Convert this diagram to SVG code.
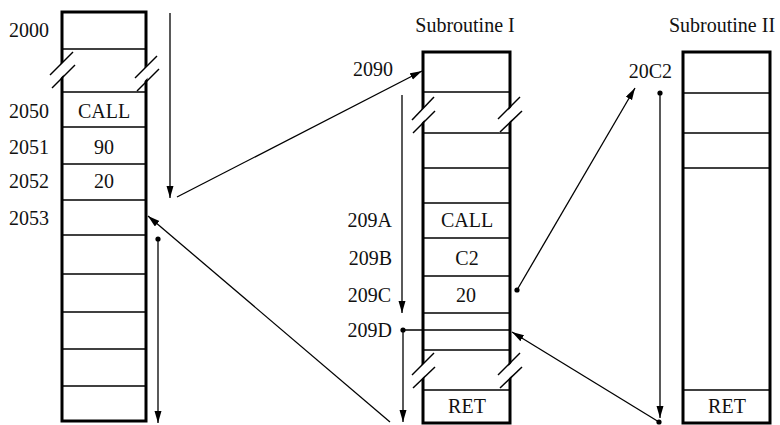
<svg xmlns="http://www.w3.org/2000/svg" width="780" height="425" viewBox="0 0 780 425">
<defs>
<marker id="ah" markerUnits="userSpaceOnUse" markerWidth="13" markerHeight="8" refX="12" refY="3.5" orient="auto">
<path d="M0,0 L12,3.5 L0,7 z" fill="#000"/>
</marker>
<style>
text{font-family:"Liberation Serif","Times New Roman",serif;font-size:20px;fill:#111}
.mid{text-anchor:middle}
.end{text-anchor:end}
.box{fill:#fff;stroke:#000;stroke-width:3}
.row{stroke:#000;stroke-width:1.5}
.sl{stroke:#000;stroke-width:1.5}
.mask{fill:#fff;stroke:none}
.con{stroke:#000;stroke-width:1.3;fill:none}
.arr{stroke:#000;stroke-width:1.3;fill:none;marker-end:url(#ah)}
.dot{fill:#000}
</style>
</defs>
<rect width="780" height="425" fill="#fff"/>

<g id="main-memory">
<rect class="box" x="62" y="12" width="84" height="409"/>
<g>
<line class="row" x1="62" y1="49" x2="146" y2="49"/>
<line class="row" x1="62" y1="92" x2="146" y2="92"/>
<line class="row" x1="62" y1="127" x2="146" y2="127"/>
<line class="row" x1="62" y1="164" x2="146" y2="164"/>
<line class="row" x1="62" y1="200" x2="146" y2="200"/>
<line class="row" x1="62" y1="235" x2="146" y2="235"/>
<line class="row" x1="62" y1="274" x2="146" y2="274"/>
<line class="row" x1="62" y1="312" x2="146" y2="312"/>
<line class="row" x1="62" y1="349" x2="146" y2="349"/>
<line class="row" x1="62" y1="386" x2="146" y2="386"/>
</g>
<polygon class="mask" points="51,74.5 73,52.5 73,65.5 51,87.5"/>
<line class="sl" x1="50" y1="75" x2="73" y2="52"/>
<line class="sl" x1="52" y1="88" x2="75" y2="65"/>
<polygon class="mask" points="135,77.5 157,55.5 157,68.5 135,90.5"/>
<line class="sl" x1="135" y1="78" x2="157" y2="56"/>
<line class="sl" x1="137" y1="91" x2="159" y2="69"/>
<text x="9" y="37">2000</text>
<text x="9" y="118">2050</text>
<text x="9" y="154">2051</text>
<text x="9" y="188">2052</text>
<text x="9" y="225">2053</text>
<text class="mid" x="104" y="118">CALL</text>
<text class="mid" x="104" y="154">90</text>
<text class="mid" x="104" y="188">20</text>
</g>

<g id="subroutine-1">
<text class="mid" x="465" y="32">Subroutine I</text>
<rect class="box" x="423" y="52" width="87" height="371"/>
<line class="row" x1="423" y1="92" x2="510" y2="92"/>
<line class="row" x1="423" y1="133" x2="510" y2="133"/>
<line class="row" x1="423" y1="168" x2="510" y2="168"/>
<line class="row" x1="423" y1="203" x2="510" y2="203"/>
<line class="row" x1="423" y1="238" x2="510" y2="238"/>
<line class="row" x1="423" y1="276" x2="510" y2="276"/>
<line class="row" x1="423" y1="313" x2="510" y2="313"/>
<line class="row" x1="423" y1="350" x2="510" y2="350"/>
<line class="row" x1="423" y1="390" x2="510" y2="390"/>
<polygon class="mask" points="412,119.5 434,97.5 434,110.5 412,132.5"/>
<line class="sl" x1="412" y1="120" x2="434" y2="97"/>
<line class="sl" x1="413" y1="133" x2="435" y2="111"/>
<polygon class="mask" points="499,119.5 521,97.5 521,110.5 499,132.5"/>
<line class="sl" x1="498" y1="119" x2="520" y2="97"/>
<line class="sl" x1="500" y1="132" x2="522" y2="111"/>
<polygon class="mask" points="412,375.5 434,353.5 434,366.5 412,388.5"/>
<line class="sl" x1="412" y1="375" x2="434" y2="353"/>
<line class="sl" x1="413" y1="388" x2="435" y2="367"/>
<polygon class="mask" points="499,375.5 521,353.5 521,366.5 499,388.5"/>
<line class="sl" x1="498" y1="375" x2="520" y2="353"/>
<line class="sl" x1="500" y1="388" x2="522" y2="367"/>
<text class="end" x="393" y="76">2090</text>
<text class="end" x="392" y="227">209A</text>
<text class="end" x="392" y="265">209B</text>
<text class="end" x="391" y="302">209C</text>
<text class="end" x="392" y="337">209D</text>
<text class="mid" x="467" y="227">CALL</text>
<text class="mid" x="467" y="265">C2</text>
<text class="mid" x="466" y="302">20</text>
<text class="mid" x="467" y="413">RET</text>
</g>

<g id="subroutine-2">
<text class="mid" x="722" y="32">Subroutine II</text>
<rect class="box" x="683" y="52" width="87" height="371"/>
<line class="row" x1="683" y1="93" x2="770" y2="93"/>
<line class="row" x1="683" y1="133" x2="770" y2="133"/>
<line class="row" x1="683" y1="168" x2="770" y2="168"/>
<line class="row" x1="683" y1="390" x2="770" y2="390"/>
<text class="end" x="672" y="78">20C2</text>
<text class="mid" x="727" y="413">RET</text>
</g>

<g id="connectors">
<line class="arr" x1="170" y1="13" x2="170" y2="198"/>
<line class="arr" x1="177" y1="197" x2="422" y2="71"/>
<line class="arr" x1="402" y1="95" x2="402" y2="313"/>
<circle class="dot" cx="517" cy="290" r="2.6"/>
<line class="arr" x1="517" y1="290" x2="635" y2="88"/>
<circle class="dot" cx="660" cy="93" r="2.6"/>
<line class="arr" x1="660" y1="93" x2="660" y2="418"/>
<circle class="dot" cx="659" cy="422" r="2.6"/>
<line class="arr" x1="659" y1="422" x2="512" y2="332"/>
<circle class="dot" cx="403" cy="330" r="2.6"/>
<line class="con" x1="403" y1="330" x2="510" y2="330"/>
<line class="arr" x1="403" y1="330" x2="403" y2="422"/>
<line class="arr" x1="390" y1="422" x2="148" y2="216"/>
<circle class="dot" cx="158" cy="239" r="2.6"/>
<line class="arr" x1="158" y1="239" x2="158" y2="423"/>
</g>
</svg>
